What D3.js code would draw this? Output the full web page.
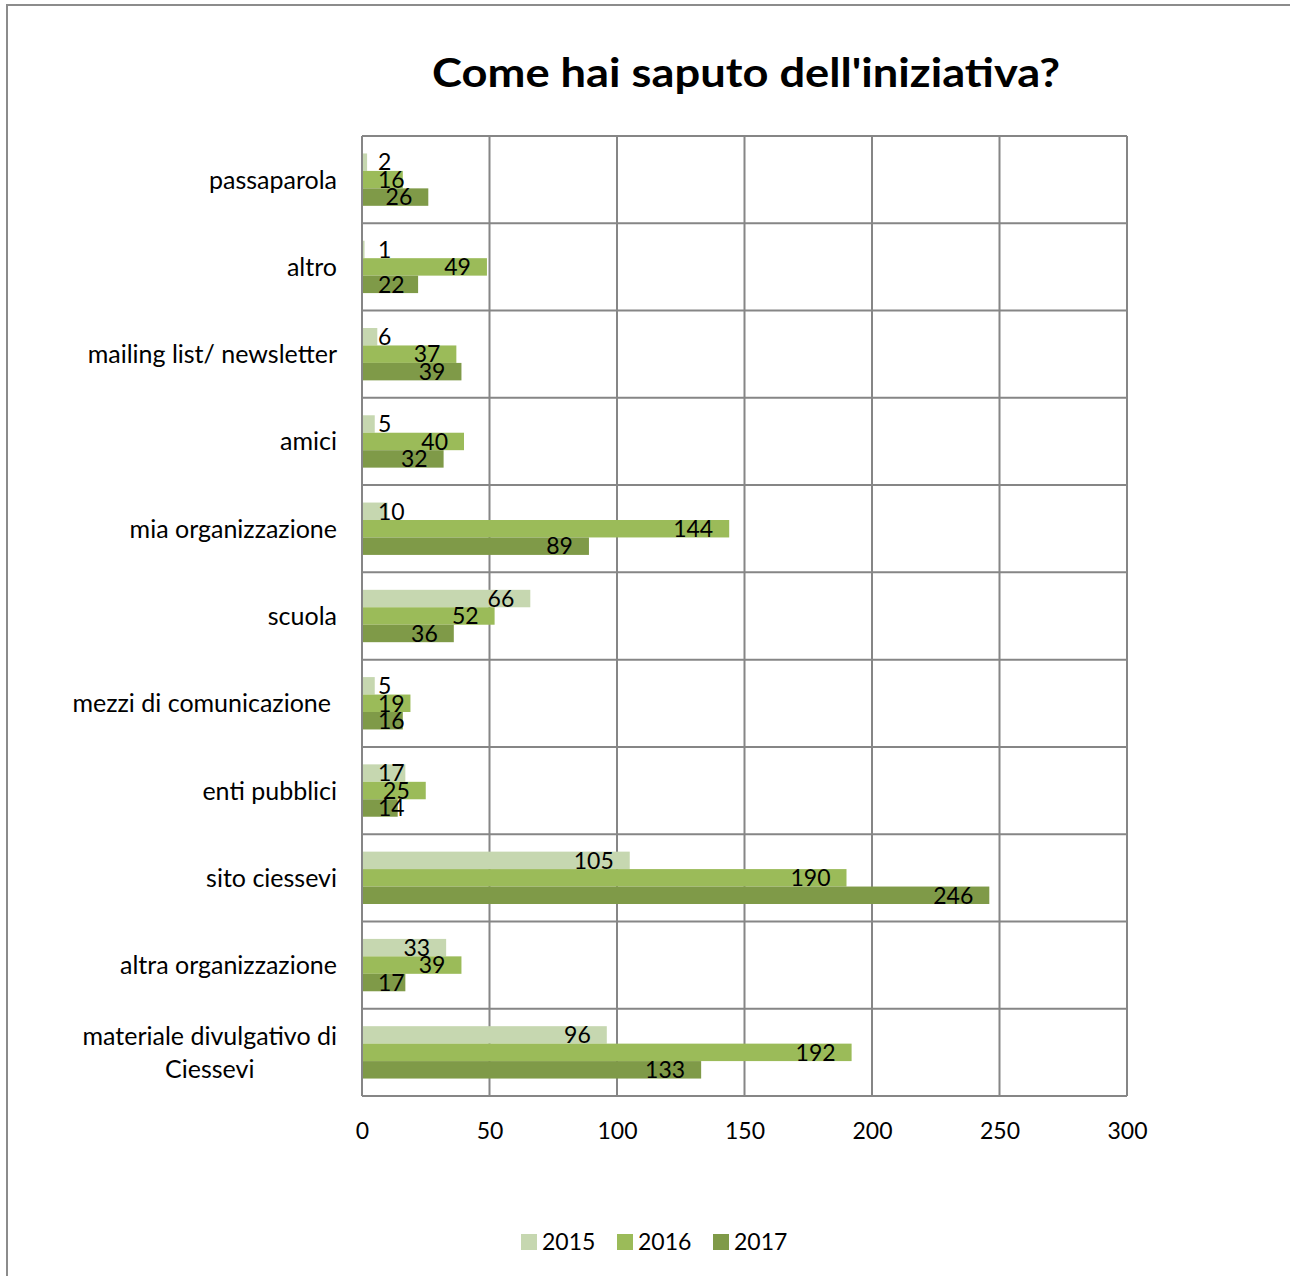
<!DOCTYPE html>
<html><head><meta charset="utf-8">
<script src="https://cdn.jsdelivr.net/npm/d3@7"></script>
<style>body{margin:0;background:#fff}svg{display:block}text{font-family:Lato,"Open Sans",sans-serif;fill:#000}</style>
</head><body><div id="c"></div>
<script>
const categories = ["passaparola","altro","mailing list/ newsletter","amici","mia organizzazione","scuola","mezzi di comunicazione","enti pubblici","sito ciessevi","altra organizzazione","materiale divulgativo di Ciessevi"];
const seriesNames = ["2015","2016","2017"];
const values2015 = [2,1,6,5,10,66,5,17,105,33,96];
const values2016 = [16,49,37,40,144,52,19,25,190,39,192];
const values2017 = [26,22,39,32,89,36,16,14,246,17,133];
const xTicks = [0,50,100,150,200,250,300];
const colors = ["#c6d7b0","#9bbb59","#7f9a48"];
const series = [values2015, values2016, values2017];

const W=1290,H=1276;
const svg=d3.select("#c").append("svg").attr("width",W).attr("height",H);
// outer frame
svg.append("path").attr("d","M7,1276V5H1290").attr("fill","none").attr("stroke","#8c8c8c").attr("stroke-width",2);

const x0=362,x1=1127,y0=136,y1=1096;
const x=d3.scaleLinear().domain([0,300]).range([x0,x1]);
const y=d3.scaleBand().domain(categories).range([y0,y1]).paddingInner(0.4).paddingOuter(0.2);
const ys=d3.scaleBand().domain(seriesNames).range([0,y.bandwidth()]);
const gridCol="#868686";

// title
const title=svg.append("text").attr("x",746).attr("y",87).attr("text-anchor","middle")
 .style("font-weight","bold").style("font-size","40px").text("Come hai saputo dell'iniziativa?");
const tw=title.node().getComputedTextLength();
if(Math.abs(tw-628)>4){title.attr("textLength",628).attr("lengthAdjust","spacingAndGlyphs");}

// vertical grid
svg.append("g").selectAll("line").data(xTicks).join("line")
 .attr("x1",d=>x(d)).attr("x2",d=>x(d)).attr("y1",y0).attr("y2",y1)
 .attr("stroke",gridCol).attr("stroke-width",2);
// horizontal category grid
const hl=d3.range(categories.length+1).map(i=>y0+i*(y1-y0)/categories.length);
svg.append("g").selectAll("line").data(hl).join("line")
 .attr("x1",x0).attr("x2",x1).attr("y1",d=>d).attr("y2",d=>d)
 .attr("stroke",gridCol).attr("stroke-width",2);

// bars
const rows=[];
categories.forEach((c,i)=>seriesNames.forEach((s,j)=>rows.push({c,s,j,v:series[j][i]})));
svg.append("g").selectAll("rect").data(rows).join("rect")
 .attr("x",x(0)+1).attr("y",d=>y(d.c)+ys(d.s)).attr("height",ys.bandwidth())
 .attr("width",d=>Math.max(0,x(d.v)-x(0)-1)).attr("fill",d=>colors[d.j]);

// data labels
const lg=svg.append("g");
rows.forEach(d=>{
  const t=lg.append("text").attr("y",y(d.c)+ys(d.s)+ys.bandwidth()/2).attr("dy","0.36em")
   .attr("text-anchor","end").style("font-size","23px").text(d.v);
  const w=t.node().getComputedTextLength();
  t.attr("x",Math.max(x(d.v)-16,x0+16+w));
});

// x axis
const xa=svg.append("g").attr("transform",`translate(0,${y1})`)
 .call(d3.axisBottom(x).tickValues(xTicks).tickSize(0).tickPadding(27).tickFormat(d3.format("d")));
xa.select(".domain").remove();
xa.selectAll("text").style("font-size","23px").attr("font-family",null);

// category labels
const cfs="25px";
const cg=svg.append("g");
categories.forEach(c=>{
  const cy=y(c)+y.bandwidth()/2;
  if(c==="materiale divulgativo di Ciessevi"){
    const t=cg.append("text").attr("text-anchor","middle").style("font-size",cfs);
    const lines=["materiale divulgativo di","Ciessevi"];
    t.append("tspan").attr("y",cy-16.5).attr("dy","0.36em").text(lines[0]);
    const w=t.node().getComputedTextLength();
    t.selectAll("tspan").attr("x",337-w/2);
    t.append("tspan").attr("x",337-w/2).attr("y",cy+16.5).attr("dy","0.36em").text(lines[1]);
  } else {
    cg.append("text").attr("x",c==="mezzi di comunicazione"?331:337).attr("y",cy).attr("dy","0.36em")
     .attr("text-anchor","end").style("font-size",cfs).text(c);
  }
});

// legend
const leg=svg.append("g");
const lx=[521,617,713];
seriesNames.forEach((s,j)=>{
  leg.append("rect").attr("x",lx[j]).attr("y",1234).attr("width",16).attr("height",16).attr("fill",colors[j]);
  leg.append("text").attr("x",lx[j]+21).attr("y",1242).attr("dy","0.36em").style("font-size","23px").text(s);
});
</script></body></html>
